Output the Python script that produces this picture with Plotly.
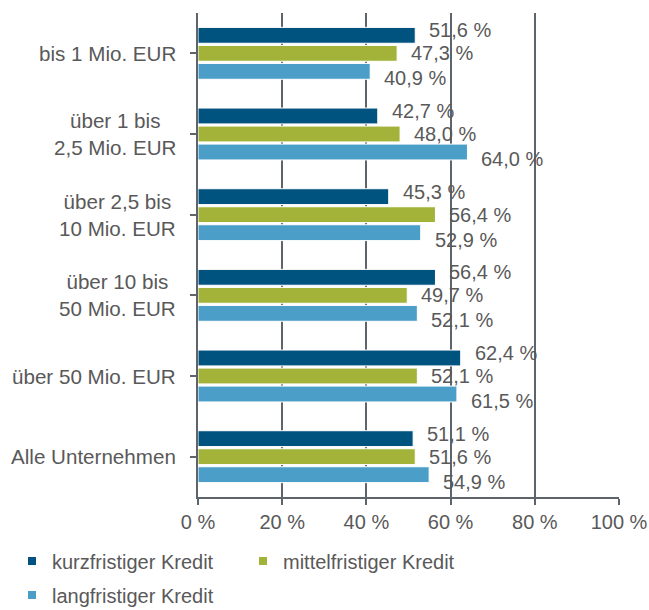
import plotly.graph_objects as go

categories = ["bis 1 Mio. EUR", "über 1 bis<br>2,5 Mio. EUR", "über 2,5 bis<br>10 Mio. EUR",
              "über 10 bis<br>50 Mio. EUR", "über 50 Mio. EUR", "Alle Unternehmen"]
series_names = ["kurzfristiger Kredit", "mittelfristiger Kredit", "langfristiger Kredit"]
kurz = [51.6, 42.7, 45.3, 56.4, 62.4, 51.1]
mittel = [47.3, 48.0, 56.4, 49.7, 52.1, 51.6]
lang = [40.9, 64.0, 52.9, 52.1, 61.5, 54.9]
tick_vals = [0, 20, 40, 60, 80, 100]
tick_text = ["0 %", "20 %", "40 %", "60 %", "80 %", "100 %"]

colors = ["#00527F", "#A3B33A", "#4A9EC7"]
text_color = "#595959"
axis_color = "#5d646b"
FONT = "Liberation Sans, Arial, sans-serif"
FS = 20

cat_ids = list(range(len(categories)))
values = [kurz, mittel, lang]

fig = go.Figure()
for name, vals, col in zip(series_names, values, colors):
    fig.add_trace(go.Bar(
        x=vals, y=cat_ids, orientation="h", name=name,
        marker=dict(color=col, line=dict(color="white", width=1)),
        showlegend=False, hoverinfo="x+name",
    ))

# legend entries (small square markers), one legend per entry
legend_ids = ["legend", "legend2", "legend3"]
for name, col, lid in zip(series_names, colors, legend_ids):
    fig.add_trace(go.Scatter(
        x=[None], y=[None], mode="markers", name=name,
        marker=dict(symbol="square", size=8, color=col),
        legend=lid, showlegend=True,
    ))

annotations = []
# data labels
yshifts = [23, 0, -25]
for vals, ys in zip(values, yshifts):
    for i, v in enumerate(vals):
        annotations.append(dict(
            x=v, y=i, xref="x", yref="y", text=f"{v:.1f} %".replace(".", ","),
            showarrow=False, xanchor="left", yanchor="middle", xshift=12, yshift=ys,
            font=dict(family=FONT, size=FS, color=text_color),
        ))
# category labels
for i, c in enumerate(categories):
    annotations.append(dict(
        x=0, y=i, xref="paper", yref="y", text=c, showarrow=False,
        xanchor="right", yanchor="middle", xshift=-20, align="center",
        font=dict(family=FONT, size=20.6, color=text_color),
    ))

legend_common = dict(orientation="h", font=dict(family=FONT, size=FS, color=text_color),
                     bgcolor="rgba(0,0,0,0)", itemwidth=30, xanchor="left", yanchor="middle",
                     xref="container", yref="container")
fig.update_layout(
    width=649, height=610,
    margin=dict(l=198, r=30, t=13, b=113, autoexpand=False),
    paper_bgcolor="white", plot_bgcolor="white",
    barmode="group", bargap=0.33, bargroupgap=0.12,
    font=dict(family=FONT, size=FS, color=text_color),
    xaxis=dict(range=[0, 100], tickvals=tick_vals, ticktext=tick_text,
               showgrid=True, gridcolor=axis_color, gridwidth=1.5,
               showline=True, linecolor=axis_color, linewidth=1.5,
               ticks="outside", ticklen=6, tickcolor=axis_color, tickwidth=1.5,
               zeroline=False, tickfont=dict(family=FONT, size=FS, color=text_color),
               fixedrange=True),
    yaxis=dict(tickvals=cat_ids, range=[len(categories) - 0.5, -0.5],
               showticklabels=False, showgrid=False, zeroline=False,
               showline=True, linecolor=axis_color, linewidth=1.5,
               ticks="outside", ticklen=6, tickcolor=axis_color, tickwidth=1.5,
               tickson="boundaries", fixedrange=True),
    legend=dict(**legend_common, x=12 / 649, y=1 - 561 / 610),
    legend2=dict(**legend_common, x=243 / 649, y=1 - 561 / 610),
    legend3=dict(**legend_common, x=12 / 649, y=1 - 595 / 610),
    annotations=annotations,
)

fig.write_html("out.html", config={"displayModeBar": False},
               post_script="document.body.style.margin='0';")
